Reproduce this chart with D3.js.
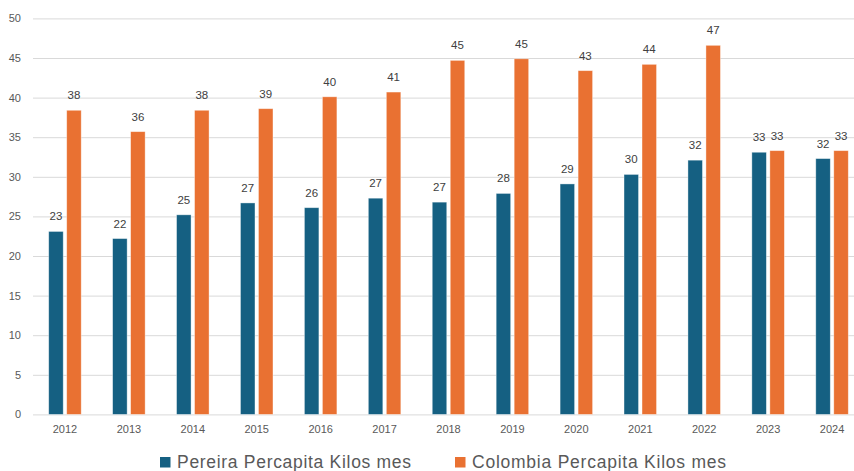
<!DOCTYPE html>
<html>
<head>
<meta charset="utf-8">
<script src="https://cdn.jsdelivr.net/npm/d3@7"></script>
<style>
  html, body { margin: 0; padding: 0; background: #fff; }
  svg { display: block; font-family: "Liberation Sans", Arial, sans-serif; }
</style>
</head>
<body>
<svg id="chart" width="854" height="471"></svg>
<script>
const years = ["2012","2013","2014","2015","2016","2017","2018","2019","2020","2021","2022","2023","2024"];
const pereira = [23.1, 22.2, 25.2, 26.7, 26.1, 27.3, 26.8, 27.9, 29.1, 30.3, 32.1, 33.1, 32.3];
const colombia = [38.4, 35.7, 38.4, 38.6, 40.1, 40.7, 44.7, 44.9, 43.4, 44.2, 46.6, 33.3, 33.3];
const seriesNames = ["Pereira Percapita Kilos mes", "Colombia Percapita Kilos mes"];
const seriesColors = ["#156082", "#E97132"];
const yTicks = [0, 5, 10, 15, 20, 25, 30, 35, 40, 45, 50];

const svg = d3.select("#chart");
const x = d3.scaleBand().domain(years).range([33, 864]).paddingInner(0).paddingOuter(0);
const y = d3.scaleLinear().domain([0, 50]).range([414.4, 18.4]);

const barW = 14.5, gap = 3.5;
const sub = d3.scaleOrdinal().domain([0, 1]).range([-gap / 2 - barW, gap / 2]);

// gridlines
const yAxis = d3.axisLeft(y).tickValues(yTicks).tickSize(-(854 - 33)).tickFormat(d3.format("d"));
const gy = svg.append("g").attr("transform", "translate(33,0)").call(yAxis);
gy.select(".domain").remove();
gy.selectAll(".tick line").attr("stroke", "#d9d9d9").attr("stroke-width", 1);
gy.selectAll(".tick text").attr("x", -12).attr("fill", "#595959").style("font-size", "11px");

// x axis labels
const xAxis = d3.axisBottom(x).tickSize(0);
const gx = svg.append("g").attr("transform", "translate(0,414.4)").call(xAxis);
gx.select(".domain").remove();
gx.selectAll(".tick text").attr("y", 16).attr("dy", "0").attr("dominant-baseline", "middle")
  .attr("fill", "#595959").style("font-size", "11px");

const seriesData = [pereira, colombia];
seriesData.forEach((vals, si) => {
  const g = svg.append("g");
  g.selectAll("rect").data(vals).enter().append("rect")
    .attr("x", (d, i) => x(years[i]) + x.bandwidth() / 2 + sub(si))
    .attr("y", d => y(d))
    .attr("width", barW)
    .attr("height", d => y(0) - y(d))
    .attr("fill", seriesColors[si])
    .attr("stroke", "#ffffff")
    .attr("stroke-opacity", 0.5)
    .attr("stroke-width", 0.75);
  g.selectAll("text").data(vals).enter().append("text")
    .attr("x", (d, i) => x(years[i]) + x.bandwidth() / 2 + sub(si) + barW / 2)
    .attr("y", d => y(d) - 14)
    .attr("text-anchor", "middle")
    .attr("dominant-baseline", "middle")
    .attr("fill", "#404040")
    .style("font-size", "11.5px")
    .text(d => Math.round(d));
});

// legend
const legendX = [160, 455];
const legendW = [234, 254];
const leg = svg.append("g");
seriesNames.forEach((name, i) => {
  leg.append("rect").attr("x", legendX[i]).attr("y", 457).attr("width", 10.5).attr("height", 10.5)
    .attr("fill", seriesColors[i]);
  leg.append("text").attr("x", legendX[i] + 17).attr("y", 463)
    .attr("dominant-baseline", "middle")
    .attr("fill", "#595959")
    .attr("textLength", legendW[i])
    .attr("lengthAdjust", "spacing")
    .style("font-size", "17.5px")
    .text(name);
});
</script>
</body>
</html>
